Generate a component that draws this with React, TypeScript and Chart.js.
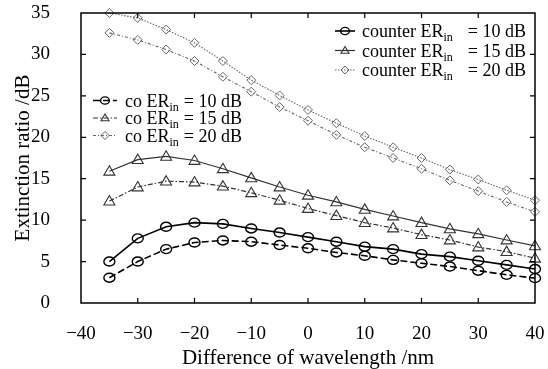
import React, { useEffect, useRef } from 'react';
import { Chart, registerables } from 'chart.js';
Chart.register(...registerables);

const FONT = '"Liberation Serif", "Times New Roman", serif';

const wavelength = [-35, -30, -25, -20, -15, -10, -5, 0, 5, 10, 15, 20, 25, 30, 35, 40];
const counter10 = [5.0, 7.8, 9.2, 9.7, 9.55, 9.0, 8.5, 7.95, 7.4, 6.8, 6.5, 5.9, 5.6, 5.1, 4.6, 4.1];
const co10 = [3.05, 5.0, 6.5, 7.3, 7.55, 7.4, 7.0, 6.6, 6.1, 5.7, 5.2, 4.8, 4.4, 3.9, 3.4, 3.0];
const counter15 = [15.9, 17.3, 17.7, 17.2, 16.2, 15.1, 14.0, 13.0, 12.2, 11.3, 10.5, 9.7, 8.95, 8.35, 7.6, 6.9];
const co15 = [12.3, 14.0, 14.7, 14.6, 14.1, 13.3, 12.4, 11.4, 10.55, 9.7, 9.05, 8.25, 7.6, 6.75, 6.2, 5.4];
const counter20 = [35.0, 34.4, 33.0, 31.4, 29.2, 26.9, 25.05, 23.3, 21.7, 20.15, 18.8, 17.5, 16.1, 14.9, 13.6, 12.4];
const co20 = [32.6, 31.75, 30.6, 29.2, 27.3, 25.5, 23.65, 22.0, 20.3, 18.8, 17.5, 16.2, 14.8, 13.5, 12.2, 11.0];

const xTicks = [-40, -30, -20, -10, 0, 10, 20, 30, 40];
const yTicks = [0, 5, 10, 15, 20, 25, 30, 35];

const seriesNames = ['counter', 'counter', 'counter', 'co', 'co', 'co'];
const seriesER = ['10', '15', '20', '10', '15', '20'];

type Style = { color: string; dash: number[]; width: number; shape: string; radius: number; mw: number };
const styles: Style[] = [
  { color: '#000', dash: [], width: 1.6, shape: 'circle', radius: 5, mw: 1.4 },
  { color: '#333', dash: [], width: 1.2, shape: 'triangle', radius: 5.5, mw: 1.1 },
  { color: '#666', dash: [1.5, 1.5], width: 1.1, shape: 'diamond', radius: 4.5, mw: 1 },
  { color: '#000', dash: [7, 3], width: 1.6, shape: 'circle', radius: 5, mw: 1.4 },
  { color: '#333', dash: [5, 2, 1.5, 2], width: 1.2, shape: 'triangle', radius: 5.5, mw: 1.1 },
  { color: '#666', dash: [3, 2, 1, 2], width: 1.1, shape: 'diamond', radius: 4.5, mw: 1 },
];

const seriesValues = [counter10, counter15, counter20, co10, co15, co20];

function drawMarker(ctx: CanvasRenderingContext2D, shape: string, x: number, y: number, r: number) {
  ctx.beginPath();
  if (shape === 'circle') {
    ctx.ellipse(x, y, r * 1.1, r * 0.9, 0, 0, Math.PI * 2);
  } else if (shape === 'triangle') {
    ctx.moveTo(x, y - r);
    ctx.lineTo(x + r, y + r * 0.7);
    ctx.lineTo(x - r, y + r * 0.7);
    ctx.closePath();
  } else {
    ctx.moveTo(x, y - r);
    ctx.lineTo(x + r, y);
    ctx.lineTo(x, y + r);
    ctx.lineTo(x - r, y);
    ctx.closePath();
  }
  ctx.stroke();
}

const markersPlugin = {
  id: 'markers',
  afterDatasetsDraw(chart: any) {
    const ctx = chart.ctx as CanvasRenderingContext2D;
    const xs = chart.scales.x;
    const ys = chart.scales.y;
    ctx.save();
    seriesValues.forEach((vals, si) => {
      const st = styles[si];
      ctx.strokeStyle = st.color;
      ctx.lineWidth = st.mw;
      ctx.setLineDash([]);
      vals.forEach((v, i) => {
        const px = xs.getPixelForValue(wavelength[i]);
        const py = ys.getPixelForValue(v);
        drawMarker(ctx, st.shape, px, py, st.radius);
      });
    });
    ctx.restore();
  },
};

const framePlugin = {
  id: 'frame',
  afterDraw(chart: any) {
    const ctx = chart.ctx as CanvasRenderingContext2D;
    const { left, right, top, bottom } = chart.chartArea;
    const xs = chart.scales.x;
    const ys = chart.scales.y;
    ctx.save();
    ctx.strokeStyle = '#000';
    ctx.lineWidth = 1.5;
    ctx.setLineDash([]);
    ctx.strokeRect(left, top, right - left, bottom - top);
    ctx.lineWidth = 1.2;
    const tl = 5;
    xTicks.slice(1, -1).forEach((v) => {
      const p = xs.getPixelForValue(v);
      ctx.beginPath();
      ctx.moveTo(p, bottom);
      ctx.lineTo(p, bottom - tl);
      ctx.moveTo(p, top);
      ctx.lineTo(p, top + tl);
      ctx.stroke();
    });
    yTicks.slice(1, -1).forEach((v) => {
      const p = ys.getPixelForValue(v);
      ctx.beginPath();
      ctx.moveTo(left, p);
      ctx.lineTo(left + tl, p);
      ctx.moveTo(right, p);
      ctx.lineTo(right - tl, p);
      ctx.stroke();
    });

    // legends
    const drawEntry = (si: number, lx0: number, lx1: number, tx: number, tEnd: number, y: number) => {
      const st = styles[si];
      ctx.strokeStyle = st.color;
      ctx.lineWidth = st.width;
      ctx.setLineDash(st.dash);
      ctx.beginPath();
      ctx.moveTo(lx0, y);
      ctx.lineTo(lx1, y);
      ctx.stroke();
      ctx.setLineDash([]);
      ctx.lineWidth = st.mw;
      drawMarker(ctx, st.shape, (lx0 + lx1) / 2, y, 4);
      ctx.fillStyle = '#000';
      ctx.textBaseline = 'alphabetic';
      ctx.textAlign = 'left';
      const base = y + 6;
      ctx.font = `18px ${FONT}`;
      const a = `${seriesNames[si]} ER`;
      ctx.fillText(a, tx, base);
      const x = tx + ctx.measureText(a).width;
      ctx.font = `12px ${FONT}`;
      ctx.fillText('in', x, base + 4);
      ctx.font = `18px ${FONT}`;
      ctx.textAlign = 'right';
      ctx.fillText(`= ${seriesER[si]} dB`, tEnd, base);
    };
    ctx.save();
    drawEntry(0, 335, 355, 362, 526, 31);
    drawEntry(1, 335, 355, 362, 526, 50.5);
    drawEntry(2, 335, 355, 362, 526, 70);
    drawEntry(3, 93, 117, 125, 242, 100.5);
    drawEntry(4, 93, 117, 125, 242, 118);
    drawEntry(5, 93, 117, 125, 242, 135.5);
    ctx.restore();
    ctx.restore();
  },
};

const fmt = (v: any) => {
  const n = Number(v);
  return n < 0 ? `\u2212${Math.abs(n)}` : `${n}`;
};

export default function App() {
  const ref = useRef<HTMLCanvasElement>(null);
  useEffect(() => {
    document.body.style.margin = '0';
    const canvas = ref.current!;
    const datasets = seriesValues.map((vals, si) => ({
      label: `${seriesNames[si]} ER ${seriesER[si]} dB`,
      data: vals.map((y, i) => ({ x: wavelength[i], y })),
      borderColor: styles[si].color,
      borderWidth: styles[si].width,
      borderDash: styles[si].dash,
      pointRadius: 0,
      fill: false,
      tension: 0,
      clip: false as any,
    }));
    const tickFont = { family: FONT, size: 19 };
    const chart = new Chart(canvas, {
      type: 'line',
      data: { datasets },
      options: {
        animation: false,
        responsive: false,
        layout: { padding: { left: 0, right: 13, top: 13, bottom: 0 } },
        plugins: { legend: { display: false }, tooltip: { enabled: false } },
        scales: {
          x: {
            type: 'linear',
            min: -40,
            max: 40,
            afterBuildTicks: (s: any) => { s.ticks = xTicks.map((v) => ({ value: v })); },
            ticks: { callback: fmt, font: tickFont, color: '#000', padding: 12, maxRotation: 0, autoSkip: false },
            grid: { display: false },
            border: { display: false },
            title: { display: true, text: 'Difference of wavelength /nm', font: { family: FONT, size: 21, lineHeight: 1 }, color: '#000', padding: { top: 0, bottom: 0.5 } },
            afterFit: (s: any) => { s.height = 66; s.paddingLeft = 0; s.paddingRight = 0; s.paddingTop = 0; s.paddingBottom = 0; },
          },
          y: {
            type: 'linear',
            min: 0,
            max: 35,
            afterBuildTicks: (s: any) => { s.ticks = yTicks.map((v) => ({ value: v })); },
            ticks: { font: tickFont, color: '#000', padding: 23, autoSkip: false },
            grid: { display: false },
            border: { display: false },
            title: { display: true, text: 'Extinction ratio /dB', font: { family: FONT, size: 21, lineHeight: 1 }, color: '#000', padding: { top: 12.5, bottom: 0 } },
            afterFit: (s: any) => { s.width = 81; s.paddingLeft = 0; s.paddingRight = 0; s.paddingTop = 0; s.paddingBottom = 0; },
          },
        },
      },
      plugins: [markersPlugin, framePlugin],
    });
    return () => chart.destroy();
  }, []);
  return (
    <div style={{ width: 548, height: 369 }}>
      <canvas ref={ref} width={548} height={369} style={{ display: 'block' }} />
    </div>
  );
}
